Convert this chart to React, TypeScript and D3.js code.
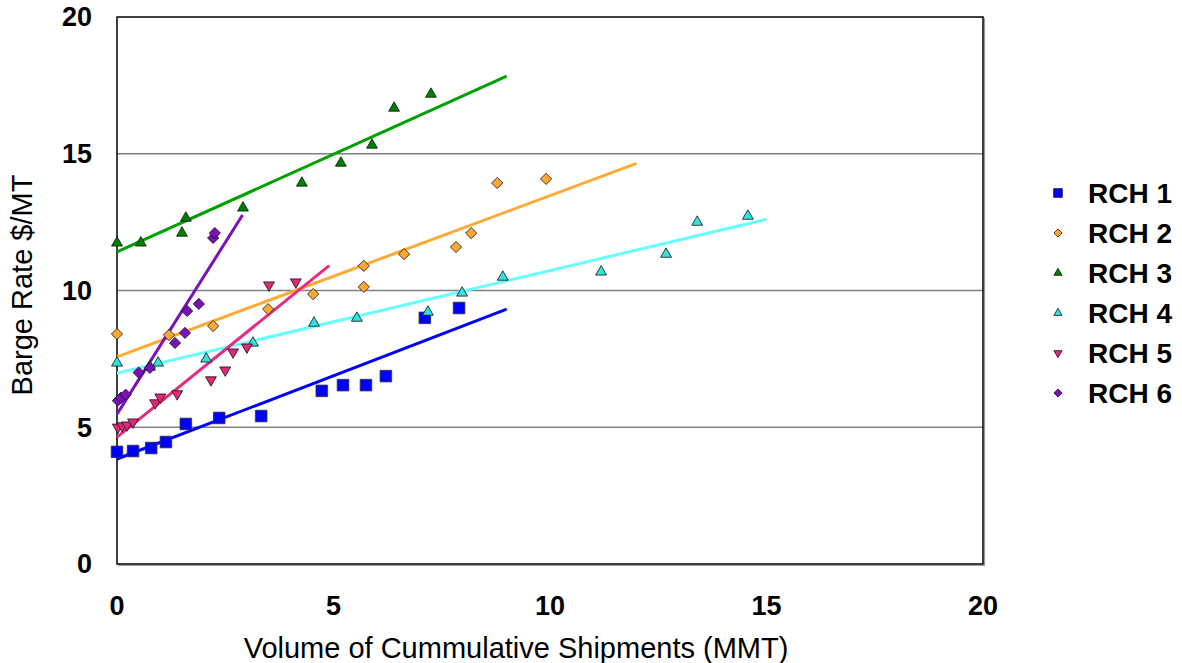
import React from "react";
import * as d3 from "d3";

const seriesNames = ["RCH 1", "RCH 2", "RCH 3", "RCH 4", "RCH 5", "RCH 6"];
const seriesColors = ["#0000ff", "#ffa733", "#008000", "#33e0e0", "#e0287a", "#7a10b8"];
const lineColors = ["#0000ff", "#ffaa33", "#00a000", "#66ffff", "#e82a80", "#7a10c0"];
const seriesShapes = ["square", "diamond", "triangle", "triangle", "triangleDown", "diamond"];

const rch1X = [0, 0.37, 0.79, 1.13, 1.59, 2.36, 3.33, 4.73, 5.22, 5.75, 6.21, 7.11, 7.9];
const rch1Y = [4.1, 4.13, 4.24, 4.46, 5.12, 5.34, 5.41, 6.33, 6.54, 6.54, 6.87, 9.0, 9.36];
const rch2X = [0, 1.2, 2.22, 3.49, 4.53, 5.7, 5.7, 6.63, 7.83, 8.18, 8.78, 9.91];
const rch2Y = [8.41, 8.37, 8.7, 9.32, 9.87, 10.13, 10.9, 11.33, 11.59, 12.1, 13.93, 14.08];
const rch3X = [0, 0.55, 1.5, 1.59, 2.91, 4.27, 5.17, 5.89, 6.4, 7.25];
const rch3Y = [11.74, 11.74, 12.1, 12.65, 13.02, 13.93, 14.66, 15.32, 16.67, 17.18];
const rch4X = [0, 0.76, 0.95, 2.06, 3.14, 4.55, 5.54, 7.18, 7.97, 8.91, 11.18, 12.68, 13.4, 14.57];
const rch4Y = [7.35, 7.2, 7.35, 7.5, 8.08, 8.81, 8.99, 9.21, 9.91, 10.49, 10.68, 11.33, 12.5, 12.72];
const rch5X = [0.02, 0.12, 0.23, 0.37, 0.88, 1.0, 1.39, 2.17, 2.5, 2.68, 3.0, 3.51, 4.13];
const rch5Y = [5.0, 5.05, 5.08, 5.19, 5.89, 6.1, 6.22, 6.73, 7.09, 7.75, 7.93, 10.2, 10.31];
const rch6X = [0.02, 0.09, 0.2, 0.5, 0.76, 1.34, 1.57, 1.62, 1.89, 2.22, 2.26];
const rch6Y = [5.97, 6.08, 6.19, 7.0, 7.17, 8.08, 8.45, 9.25, 9.51, 11.92, 12.1];

const seriesX = [rch1X, rch2X, rch3X, rch4X, rch5X, rch6X];
const seriesY = [rch1Y, rch2Y, rch3Y, rch4Y, rch5Y, rch6Y];

const trendIntercept = [3.84, 7.57, 11.41, 6.98, 4.64, 5.48];
const trendSlope = [0.609, 0.59, 0.714, 0.375, 1.28, 2.51];
const trendEnd = [9, 12, 9, 15, 4.9, 2.9];

const xTicks = [0, 5, 10, 15, 20];
const yTicks = [0, 5, 10, 15, 20];

const FONT = "'Liberation Sans', Arial, sans-serif";

function markerPath(shape: string, size: number): string {
  const typeMap: Record<string, any> = {
    square: d3.symbolSquare,
    diamond: d3.symbolDiamond2,
    triangle: d3.symbolTriangle2,
    triangleDown: d3.symbolTriangle2,
  };
  return d3.symbol(typeMap[shape], size)() || "";
}

export default function App() {
  const W = 1182, H = 663;
  const left = 117, right = 983, top = 17, bottom = 564;
  const x = d3.scaleLinear().domain([0, 20]).range([left, right]);
  const y = d3.scaleLinear().domain([0, 20]).range([bottom, top]);
  const line = d3.line<[number, number]>().x(d => x(d[0])).y(d => y(d[1]));

  const sizeFor = (s: string) => (s === "square" ? 135 : s === "diamond" ? 80 : 85);
  const legendSize = (s: string) => (s === "square" ? 75 : s === "diamond" ? 42 : 48);

  return (
    <svg width={W} height={H} style={{ position: "absolute", left: 0, top: 0, background: "#fff" }}>
      <rect x={0} y={0} width={W} height={H} fill="#fff" />
      {yTicks.filter(t => t > 0 && t < 20).map(t => (
        <line key={t} x1={left} x2={right} y1={y(t)} y2={y(t)} stroke="#808080" strokeWidth={1.3} />
      ))}
      <line x1={left + 1} x2={right + 1.5} y1={bottom + 1.5} y2={bottom + 1.5} stroke="#999" strokeWidth={1.2} />
      <line x1={right + 1.5} x2={right + 1.5} y1={top + 1} y2={bottom + 1.5} stroke="#999" strokeWidth={1.2} />
      <rect x={left} y={top} width={right - left} height={bottom - top} fill="none" stroke="#000" strokeWidth={1.5} />

      {seriesNames.map((n, i) => (
        <path key={n}
          d={line([[0, trendIntercept[i]], [trendEnd[i], trendIntercept[i] + trendSlope[i] * trendEnd[i]]]) || ""}
          stroke={lineColors[i]} strokeWidth={3} fill="none" />
      ))}

      {seriesNames.map((n, i) => (
        <g key={n}>
          {seriesX[i].map((vx, j) => (
            <path key={j} d={markerPath(seriesShapes[i], sizeFor(seriesShapes[i]))}
              transform={`translate(${x(vx)},${y(seriesY[i][j])})${seriesShapes[i] === "triangleDown" ? " rotate(180)" : ""}`}
              fill={seriesColors[i]} stroke={seriesShapes[i] === "square" ? "#333" : "#111"} strokeWidth={0.8} />
          ))}
        </g>
      ))}

      {yTicks.map(t => (
        <text key={t} x={92} y={y(t)} dy="0.35em" textAnchor="end" fontFamily={FONT} fontWeight="bold" fontSize={27} fill="#000">{t}</text>
      ))}
      {xTicks.map(t => (
        <text key={t} x={x(t)} y={606} dy="0.35em" textAnchor="middle" fontFamily={FONT} fontWeight="bold" fontSize={27} fill="#000">{t}</text>
      ))}

      <text x={516} y={648} dy="0.35em" textAnchor="middle" fontFamily={FONT} fontSize={29} fill="#000">Volume of Cummulative Shipments (MMT)</text>
      <text transform={`translate(22,285) rotate(-90)`} dy="0.35em" textAnchor="middle" fontFamily={FONT} fontSize={29} fill="#000">Barge Rate $/MT</text>

      {seriesNames.map((n, i) => (
        <g key={n} transform={`translate(0,${193 + i * 40})`}>
          <path d={markerPath(seriesShapes[i], legendSize(seriesShapes[i]))}
            transform={`translate(1058,0)${seriesShapes[i] === "triangleDown" ? " rotate(180)" : ""}`}
            fill={seriesColors[i]} stroke="#111" strokeWidth={0.8} />
          <text x={1088} y={0} dy="0.35em" fontFamily={FONT} fontWeight="bold" fontSize={28} fill="#000">{n}</text>
        </g>
      ))}
    </svg>
  );
}
